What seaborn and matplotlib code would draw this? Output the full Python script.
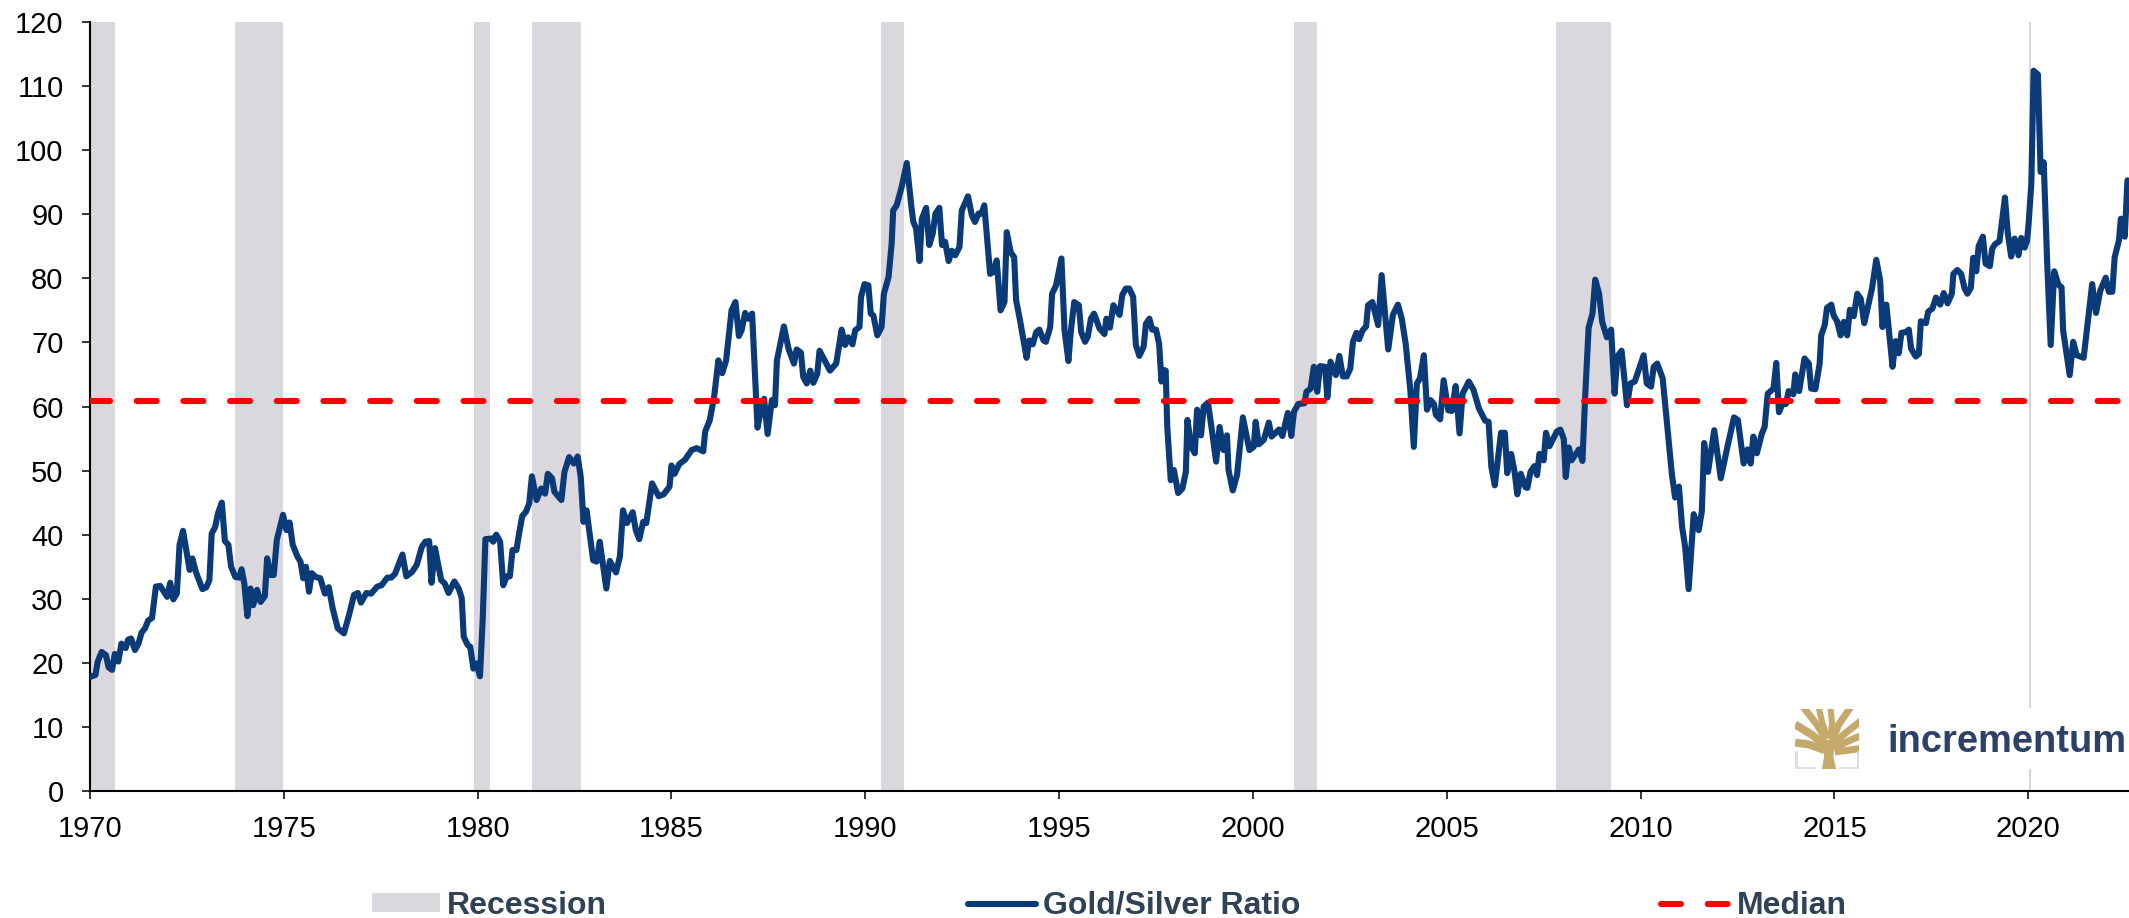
## Gold/Silver ratio since 1970, with recessions and the median
import numpy as np
import pandas as pd
import matplotlib
matplotlib.use('Agg')
import matplotlib.pyplot as plt
from matplotlib.patches import Rectangle
import seaborn as sns

## values, decade by decade
years_70s = [1970.0, 1970.14, 1970.2, 1970.3, 1970.41, 1970.48, 1970.57, 1970.64, 1970.73, 1970.81, 1970.92, 1970.98,
             1971.06, 1971.16, 1971.25, 1971.33, 1971.42, 1971.5, 1971.6, 1971.7, 1971.81, 1971.99,
             1972.07, 1972.15, 1972.24, 1972.31, 1972.4, 1972.57, 1972.64, 1972.73, 1972.9, 1973.0,
             1973.08, 1973.14, 1973.23, 1973.3, 1973.4, 1973.48, 1973.57, 1973.64, 1973.75, 1973.85, 1973.91, 1973.98,
             1974.06, 1974.14, 1974.21, 1974.31, 1974.4, 1974.51, 1974.57, 1974.66, 1974.74, 1974.82, 1974.98,
             1975.07, 1975.15, 1975.23, 1975.35, 1975.43, 1975.5, 1975.57, 1975.65, 1975.72, 1975.82, 1975.94,
             1976.06, 1976.16, 1976.26, 1976.39, 1976.55, 1976.68, 1976.81, 1976.91, 1976.99,
             1977.13, 1977.25, 1977.41, 1977.52, 1977.67, 1977.77, 1977.87, 1977.97,
             1978.06, 1978.16, 1978.31, 1978.43, 1978.56, 1978.65, 1978.75, 1978.81, 1978.9,
             1979.06, 1979.15, 1979.25, 1979.4, 1979.51, 1979.59, 1979.64, 1979.74, 1979.81, 1979.89, 1979.97]
ratio_70s = [17.8, 18.1, 20.2, 21.7, 21.2, 19.3, 18.9, 21.4, 20.2, 23.0, 22.3, 23.6,
             23.8, 22.0, 23.0, 24.7, 25.4, 26.6, 27.0, 31.9, 32.0, 30.3,
             32.5, 29.9, 30.8, 38.4, 40.6, 34.5, 36.3, 34.2, 31.5, 31.8,
             32.9, 40.2, 41.2, 43.3, 45.0, 39.0, 38.4, 35.0, 33.4, 33.3, 34.6, 32.4,
             27.3, 31.6, 29.0, 31.4, 29.5, 30.4, 36.3, 33.7, 33.7, 39.2, 43.1,
             40.7, 41.9, 38.4, 36.6, 35.8, 33.2, 35.0, 31.1, 34.0, 33.4, 33.2,
             30.8, 31.8, 28.5, 25.4, 24.6, 27.4, 30.6, 30.9, 29.4,
             30.9, 30.8, 31.9, 32.1, 33.3, 33.3, 33.9, 35.5,
             36.9, 33.5, 34.2, 35.3, 38.1, 38.9, 39.0, 32.5, 37.9,
             32.9, 32.4, 30.9, 32.7, 31.6, 30.1, 24.1, 22.8, 22.5, 19.1, 19.9]

years_80s = [1980.06, 1980.13, 1980.2, 1980.36, 1980.4, 1980.48, 1980.58, 1980.66, 1980.75, 1980.83, 1980.9, 1981.0,
             1981.07, 1981.15, 1981.25, 1981.33, 1981.4, 1981.52, 1981.64, 1981.74, 1981.81, 1981.92, 1981.98,
             1982.16, 1982.24, 1982.36, 1982.48, 1982.58, 1982.66, 1982.73, 1982.81, 1982.98,
             1983.07, 1983.15, 1983.32, 1983.41, 1983.57, 1983.67, 1983.75, 1983.85, 1984.0,
             1984.08, 1984.17, 1984.27, 1984.35, 1984.5, 1984.67, 1984.8, 1984.95,
             1985.0, 1985.08, 1985.2, 1985.35, 1985.52, 1985.65, 1985.82, 1985.87, 1985.99,
             1986.1, 1986.21, 1986.31, 1986.41, 1986.55, 1986.65, 1986.74, 1986.81, 1986.9, 1986.98,
             1987.08, 1987.22, 1987.29, 1987.39, 1987.48, 1987.59, 1987.67, 1987.72, 1987.9,
             1988.02, 1988.16, 1988.23, 1988.34, 1988.4, 1988.49, 1988.58, 1988.66, 1988.76, 1988.82, 1988.96,
             1989.09, 1989.25, 1989.39, 1989.48, 1989.56, 1989.67, 1989.74, 1989.85, 1989.89, 1989.98]
ratio_80s = [17.9, 26.7, 39.3, 39.4, 38.9, 40.0, 38.9, 32.1, 33.5, 33.5, 37.6, 37.6,
             40.2, 42.9, 43.6, 44.9, 49.1, 45.4, 47.2, 46.4, 49.5, 48.8, 46.7,
             45.4, 49.8, 52.1, 51.1, 52.2, 49.0, 42.0, 43.8, 36.0,
             35.8, 38.9, 31.6, 35.9, 34.1, 36.6, 43.8, 41.8, 43.5,
             40.7, 39.3, 42.0, 41.8, 48.0, 46.0, 46.3, 47.5,
             50.8, 49.5, 51.0, 51.7, 53.2, 53.5, 53.0, 56.1, 57.9,
             61.5, 67.2, 65.2, 67.2, 75.0, 76.3, 71.0, 71.9, 74.6, 73.7,
             74.5, 56.7, 58.9, 61.2, 55.7, 61.0, 60.2, 67.2, 72.5,
             69.0, 66.7, 68.9, 68.4, 64.6, 63.6, 65.6, 63.7, 65.1, 68.7, 67.1,
             65.6, 66.7, 72.0, 69.6, 70.8, 69.7, 71.9, 72.4, 77.1, 79.1]

years_90s = [1990.08, 1990.14, 1990.21, 1990.31, 1990.42, 1990.48, 1990.6, 1990.68, 1990.72, 1990.81, 1990.94,
             1991.07, 1991.2, 1991.24, 1991.31, 1991.4, 1991.46, 1991.57, 1991.65, 1991.74, 1991.81, 1991.91, 1991.98,
             1992.06, 1992.15, 1992.23, 1992.32, 1992.43, 1992.49, 1992.65, 1992.75, 1992.83, 1992.92, 1993.0,
             1993.07, 1993.22, 1993.3, 1993.39, 1993.49, 1993.59, 1993.65, 1993.75, 1993.84, 1993.89, 1993.99,
             1994.16, 1994.23, 1994.32, 1994.41, 1994.49, 1994.6, 1994.66, 1994.77, 1994.82, 1994.92,
             1995.06, 1995.14, 1995.24, 1995.3, 1995.39, 1995.51, 1995.57, 1995.67, 1995.74, 1995.82, 1995.9,
             1996.04, 1996.17, 1996.22, 1996.31, 1996.4, 1996.56, 1996.63, 1996.72, 1996.81, 1996.91, 1996.98,
             1997.07, 1997.18, 1997.24, 1997.33, 1997.4, 1997.5, 1997.58, 1997.64, 1997.69, 1997.75, 1997.79, 1997.88, 1997.96,
             1998.07, 1998.18, 1998.27, 1998.31, 1998.41, 1998.5, 1998.56, 1998.66, 1998.73, 1998.84, 1998.96,
             1999.05, 1999.14, 1999.24, 1999.33, 1999.37, 1999.48, 1999.59, 1999.74, 1999.91]
ratio_90s = [78.9, 74.5, 74.2, 71.1, 72.4, 77.6, 80.2, 85.4, 90.6, 91.4, 94.3,
             98.0, 90.6, 88.8, 87.8, 82.7, 89.3, 91.0, 85.2, 87.0, 90.1, 91.0, 85.2,
             85.7, 82.7, 84.3, 83.6, 84.9, 90.6, 92.8, 89.8, 88.8, 90.1, 90.1,
             91.4, 80.7, 81.0, 82.8, 75.0, 76.3, 87.2, 84.1, 83.3, 76.6, 73.5,
             67.6, 70.3, 69.7, 71.6, 72.0, 70.3, 70.1, 72.4, 77.6, 78.9,
             83.1, 71.9, 67.1, 71.6, 76.3, 75.8, 71.6, 70.1, 70.9, 73.7, 74.5,
             72.2, 71.3, 73.7, 72.3, 75.8, 74.3, 77.4, 78.4, 78.4, 77.1, 69.6,
             67.9, 69.3, 72.9, 73.7, 72.0, 72.0, 69.8, 63.9, 65.7, 65.6, 56.8, 48.5, 50.1,
             46.5, 47.2, 49.8, 57.9, 53.7, 52.7, 59.5, 55.5, 60.0, 60.6, 55.5,
             51.4, 56.8, 53.2, 55.5, 50.1, 46.9, 49.3, 58.3, 53.2]

years_00s = [2000.02, 2000.07, 2000.15, 2000.28, 2000.41, 2000.48, 2000.67, 2000.76, 2000.9, 2000.99,
             2001.06, 2001.17, 2001.33, 2001.38, 2001.49, 2001.57, 2001.66, 2001.73, 2001.86, 2001.92,
             2002.0, 2002.14, 2002.23, 2002.32, 2002.42, 2002.51, 2002.58, 2002.67, 2002.74, 2002.83, 2002.92, 2002.97,
             2003.08, 2003.23, 2003.32, 2003.49, 2003.61, 2003.74, 2003.84, 2003.94,
             2004.06, 2004.15, 2004.23, 2004.31, 2004.41, 2004.49, 2004.58, 2004.67, 2004.72, 2004.83, 2004.92,
             2005.04, 2005.13, 2005.23, 2005.33, 2005.41, 2005.57, 2005.69, 2005.83, 2005.99,
             2006.08, 2006.15, 2006.24, 2006.4, 2006.5, 2006.56, 2006.66, 2006.75, 2006.82, 2006.91,
             2007.03, 2007.08, 2007.16, 2007.26, 2007.33, 2007.39, 2007.5, 2007.56, 2007.65, 2007.84, 2007.93,
             2008.02, 2008.07, 2008.15, 2008.22, 2008.41, 2008.5, 2008.57, 2008.66, 2008.76, 2008.83, 2008.93,
             2009.01, 2009.13, 2009.24, 2009.33, 2009.4, 2009.51, 2009.65, 2009.74, 2009.85]
ratio_00s = [53.7, 57.6, 54.1, 54.8, 57.5, 55.3, 56.4, 55.4, 59.0, 55.4,
             59.2, 60.4, 60.5, 62.3, 62.8, 66.2, 62.3, 66.3, 66.2, 61.4,
             67.0, 64.9, 67.9, 64.7, 64.7, 65.9, 70.1, 71.5, 70.5, 71.9, 72.5, 75.8,
             76.3, 72.7, 80.5, 68.9, 74.3, 75.9, 73.7, 69.8,
             62.6, 53.7, 63.6, 64.4, 68.0, 59.5, 61.0, 60.4, 58.7, 58.0, 64.1,
             59.4, 59.3, 63.2, 55.8, 62.0, 63.9, 62.6, 59.7, 57.8,
             57.6, 50.6, 47.7, 55.9, 55.9, 49.6, 52.6, 49.8, 46.3, 49.5,
             47.4, 47.3, 49.8, 50.7, 49.3, 52.6, 51.6, 55.9, 53.8, 56.1, 56.4,
             54.9, 49.0, 53.6, 51.6, 53.3, 51.5, 61.5, 72.3, 74.5, 79.8, 77.6,
             73.2, 70.8, 72.0, 62.0, 67.8, 68.7, 60.2, 63.6, 63.9]

years_10s = [2010.08, 2010.16, 2010.27, 2010.34, 2010.43, 2010.57, 2010.81, 2010.89, 2010.99,
             2011.07, 2011.15, 2011.24, 2011.37, 2011.5, 2011.58, 2011.64, 2011.74, 2011.9,
             2012.07, 2012.24, 2012.41, 2012.51, 2012.66, 2012.76, 2012.84, 2012.91, 2013.0,
             2013.13, 2013.2, 2013.28, 2013.43, 2013.5, 2013.57, 2013.66, 2013.75, 2013.82, 2013.94, 2013.99,
             2014.09, 2014.23, 2014.34, 2014.4, 2014.51, 2014.62, 2014.66, 2014.75, 2014.81, 2014.92, 2014.98,
             2015.07, 2015.16, 2015.24, 2015.33, 2015.4, 2015.5, 2015.59, 2015.68, 2015.77, 2015.88, 2015.97,
             2016.08, 2016.18, 2016.24, 2016.34, 2016.5, 2016.58, 2016.66, 2016.73, 2016.84, 2016.92, 2016.98,
             2017.1, 2017.18, 2017.23, 2017.36, 2017.42, 2017.53, 2017.62, 2017.73, 2017.82, 2017.92,
             2018.03, 2018.07, 2018.17, 2018.27, 2018.36, 2018.43, 2018.52, 2018.58, 2018.66, 2018.72, 2018.83, 2018.9,
             2019.01, 2019.07, 2019.14, 2019.26, 2019.4, 2019.47, 2019.56, 2019.65, 2019.75, 2019.82, 2019.91, 2019.97]
ratio_10s = [68.0, 63.6, 63.1, 66.2, 66.7, 64.4, 49.3, 45.8, 47.5,
             41.3, 38.1, 31.5, 43.2, 40.7, 43.6, 54.3, 49.8, 56.3,
             48.8, 53.7, 58.3, 57.9, 51.1, 53.3, 51.1, 55.3, 52.7,
             55.8, 56.8, 62.0, 62.8, 66.8, 59.1, 60.4, 60.4, 62.4, 61.9, 65.0,
             62.4, 67.5, 66.7, 62.8, 62.7, 66.7, 71.1, 72.7, 75.4, 75.9, 74.2,
             73.3, 71.1, 73.2, 71.1, 75.1, 74.1, 77.6, 76.8, 73.0, 76.0, 78.4,
             82.9, 79.7, 72.4, 75.9, 66.2, 70.2, 68.3, 71.5, 71.6, 72.0, 69.0,
             67.8, 68.2, 73.3, 73.0, 74.8, 75.3, 77.0, 75.9, 77.7, 76.1,
             77.6, 80.7, 81.3, 80.7, 78.4, 77.6, 78.5, 83.2, 81.1, 85.0, 86.5, 82.3,
             81.9, 84.6, 85.3, 85.8, 92.6, 87.2, 83.4, 86.2, 83.6, 86.3, 84.8, 85.9]

years_20s = [2020.01, 2020.08, 2020.14, 2020.25, 2020.32, 2020.4, 2020.49, 2020.58, 2020.67, 2020.78, 2020.86, 2020.9,
             2021.07, 2021.16, 2021.25, 2021.43, 2021.54, 2021.65, 2021.75, 2021.86,
             2022.0, 2022.08, 2022.17, 2022.23, 2022.34, 2022.39, 2022.49, 2022.56]
ratio_20s = [88.5, 94.8, 112.4, 111.8, 96.6, 98.1, 82.3, 69.6, 81.1, 79.0, 78.6, 71.9,
             64.9, 70.1, 68.0, 67.6, 73.4, 79.1, 74.6, 78.1,
             80.1, 77.9, 77.9, 83.3, 85.9, 89.3, 86.5, 95.3]

median_ratio = 60.9

recession_start = [1970.0, 1973.74, 1979.91, 1981.4, 1990.41, 2001.07, 2007.83]
recession_end = [1970.65, 1974.98, 1980.32, 1982.66, 1991.0, 2001.66, 2009.25]
covid_start = 2020.01
covid_end = 2020.08

year_ticks = list(range(1970, 2021, 5))
ratio_ticks = list(range(0, 121, 10))

## stick the decades together
ratio_data = pd.DataFrame({
    'Year': years_70s + years_80s + years_90s + years_00s + years_10s + years_20s,
    'Ratio': ratio_70s + ratio_80s + ratio_90s + ratio_00s + ratio_10s + ratio_20s,
})

sns.set_theme(style='white')
plt.rcParams['font.family'] = ['Liberation Sans', 'DejaVu Sans']

W, H = 2129, 918
fig = plt.figure(figsize=(W / 100, H / 100), dpi=100)
ax = fig.add_axes([90 / W, 1 - 791 / H, (W - 90) / W, (791 - 22) / H])

## recessions
for i in range(len(recession_start)):
    ax.axvspan(recession_start[i], recession_end[i], color='#dad8dc', lw=0, zorder=1,
               label='Recession' if i == 0 else None)
ax.axvspan(covid_start, covid_end, color='#d6d6d6', lw=0, zorder=1)

## median goes under the ratio in some spots, over it in others
sns.lineplot(data=ratio_data, x='Year', y='Ratio', ax=ax, color='#0b3a78', linewidth=4.4, sort=False,
             errorbar=None, label='Gold/Silver Ratio', zorder=3,
             solid_joinstyle='round', solid_capstyle='round')
ax.axhline(median_ratio, color='#ff0000', lw=4.4, linestyle=(0, (3.27, 4.37)),
           dash_capstyle='round', label='Median', zorder=4)

ax.set_xlim(1970, 2022.6)
ax.set_ylim(0, 120)
ax.set_xticks(year_ticks)
ax.set_yticks(ratio_ticks)
ax.set_xlabel('')
ax.set_ylabel('')
ax.tick_params(axis='x', direction='out', length=6, width=1.1, color='black', labelsize=21, pad=11, labelcolor='black', bottom=True)
ax.tick_params(axis='y', direction='out', length=6, width=1.1, color='black', labelsize=21, pad=13, labelcolor='black', left=True)
sns.despine(ax=ax)
for side in ['left', 'bottom']:
    ax.spines[side].set_color('black')
    ax.spines[side].set_linewidth(1.5)

## legend in the same order as the picture, the one seaborn made goes away
handles, labels = ax.get_legend_handles_labels()
ax.get_legend().remove()
by_label = dict(zip(labels, handles))
order = ['Recession', 'Gold/Silver Ratio', 'Median']
leg = fig.legend([by_label[k] for k in order], order, ncol=3, frameon=False,
                 loc='lower left', bbox_to_anchor=(372 / W, -0.003), borderaxespad=0, borderpad=0,
                 prop={'size': 23, 'weight': 'bold'}, labelcolor='#2f4256',
                 handlelength=2.13, handleheight=0.5, handletextpad=0.22, columnspacing=11.3)

## logo block covers the thin 2020 bar
ax.add_patch(Rectangle((1785 / W, 1 - 769 / H), (W - 1785) / W, 61 / H, transform=fig.transFigure,
                       facecolor='white', edgecolor='none', zorder=5))
fig.text(1887 / W, 1 - 752 / H, 'incrementum', fontsize=27.4, fontweight='bold', color='#2d4068',
         ha='left', va='baseline', zorder=6)

## small tree logo, coordinates follow the zoomed crop
gold = '#c4a96a'
logo = fig.add_axes([1795 / W, 1 - 769 / H, 64 / W, 60 / H], zorder=6)
logo.set_xlim(30, 220)
logo.set_ylim(205, 30)
logo.axis('off')
logo.fill([110, 116, 114, 100, 95, 125, 155, 158, 146, 144, 152], [205, 170, 145, 135, 115, 120, 120, 135, 145, 170, 205],
          color=gold, lw=0)
branches = [([118, 70, 30], [150, 133, 128], 8), ([118, 80, 30], [135, 105, 75], 8), ([122, 95, 55], [120, 75, 25], 7),
            ([126, 110, 100], [115, 65, 25], 6), ([135, 140, 135], [115, 70, 25], 6), ([140, 160, 195], [125, 75, 25], 7),
            ([145, 180, 225], [130, 100, 65], 7), ([145, 185, 225], [145, 125, 108], 7), ([148, 190, 225], [155, 150, 145], 7)]
for bx, by, bw in branches:
    logo.plot(bx, by, color=gold, lw=bw * 0.72, solid_capstyle='butt', clip_on=True)
logo.plot([34, 34, 85], [155, 201, 201], color='#dddddd', lw=2.2, solid_joinstyle='miter')
logo.plot([165, 216, 216], [201, 201, 155], color='#dddddd', lw=2.2, solid_joinstyle='miter')

fig.savefig('out.png', dpi=100)
